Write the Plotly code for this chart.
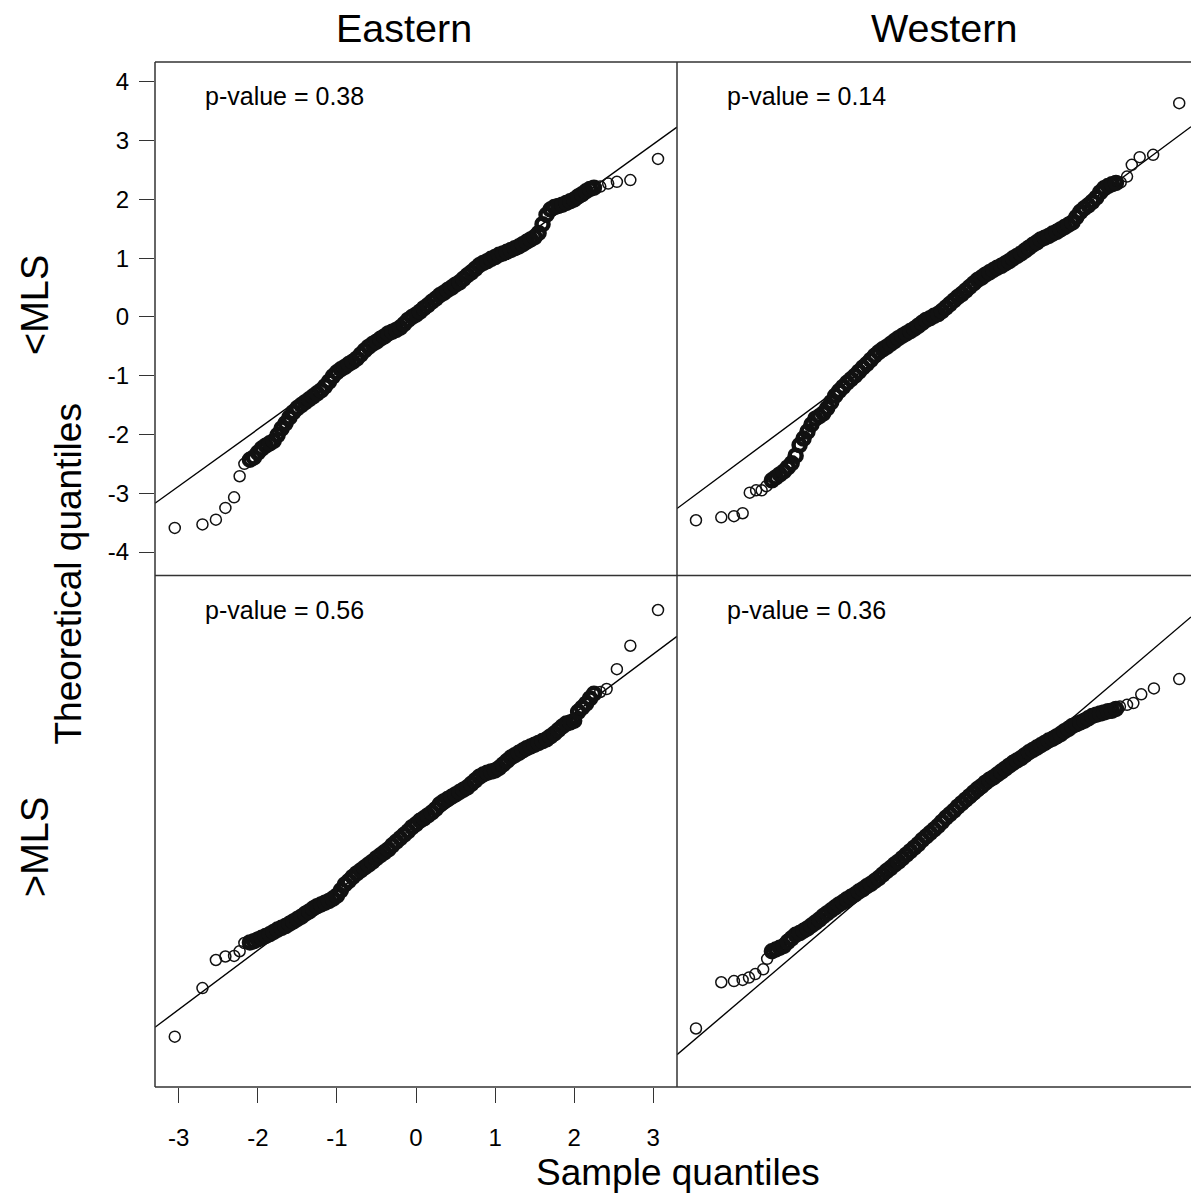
import plotly.graph_objects as go

# ---------------- data ----------------
COLUMNS = ["Eastern", "Western"]
ROWS = ["<MLS", ">MLS"]
P_VALUES = ["p-value = 0.38", "p-value = 0.14", "p-value = 0.56", "p-value = 0.36"]

X_TICKS = [-3, -2, -1, 0, 1, 2, 3]
Y_TICKS = [-4, -3, -2, -1, 0, 1, 2, 3, 4]

# reference lines (intercept, slope) per panel: TL, TR, BL, BR
LINE_INTERCEPT = [0.03, 0.04, -0.04, -0.05]
LINE_SLOPE = [0.97, 1.00, 1.012, 1.151]

# dense central part of each QQ cloud (x positions shared)
CORE_X = [-2.10, -2.05, -2.00, -1.95, -1.90, -1.85, -1.80, -1.75, -1.70, -1.65,
          -1.60, -1.55, -1.50, -1.45, -1.40, -1.35, -1.30, -1.25, -1.20, -1.15,
          -1.10, -1.05, -1.00, -0.95, -0.90, -0.85, -0.80, -0.75, -0.70, -0.65,
          -0.60, -0.55, -0.50, -0.45, -0.40, -0.35, -0.30, -0.25, -0.20, -0.15,
          -0.10, -0.05, 0.00, 0.05, 0.10, 0.15, 0.20, 0.25, 0.30, 0.35,
          0.40, 0.45, 0.50, 0.55, 0.60, 0.65, 0.70, 0.75, 0.80, 0.85,
          0.90, 0.95, 1.00, 1.05, 1.10, 1.15, 1.20, 1.25, 1.30, 1.35,
          1.40, 1.45, 1.50, 1.55, 1.60, 1.65, 1.70, 1.75, 1.80, 1.85,
          1.90, 1.95, 2.00, 2.05, 2.10, 2.15, 2.20, 2.25]

TL_CORE_Y = [-2.43, -2.39, -2.31, -2.24, -2.19, -2.15, -2.11, -2.01, -1.90, -1.81,
             -1.71, -1.62, -1.55, -1.50, -1.45, -1.40, -1.35, -1.30, -1.25, -1.18,
             -1.10, -1.01, -0.94, -0.89, -0.85, -0.80, -0.76, -0.71, -0.64, -0.57,
             -0.51, -0.46, -0.42, -0.37, -0.33, -0.28, -0.25, -0.22, -0.18, -0.12,
             -0.05, 0.00, 0.04, 0.09, 0.15, 0.20, 0.26, 0.31, 0.37, 0.41,
             0.46, 0.50, 0.55, 0.59, 0.65, 0.71, 0.76, 0.82, 0.88, 0.92,
             0.95, 0.99, 1.02, 1.06, 1.08, 1.11, 1.14, 1.17, 1.20, 1.24,
             1.28, 1.32, 1.36, 1.43, 1.58, 1.74, 1.83, 1.87, 1.89, 1.91,
             1.94, 1.97, 2.00, 2.05, 2.09, 2.14, 2.18, 2.20]
TL_TAIL_X = [-3.05, -2.70, -2.53, -2.41, -2.30, -2.23, -2.17, 2.33, 2.43, 2.54, 2.71, 3.06]
TL_TAIL_Y = [-3.59, -3.53, -3.45, -3.25, -3.07, -2.71, -2.50, 2.22, 2.27, 2.30, 2.33, 2.69]

TR_CORE_Y = [-2.78, -2.73, -2.68, -2.63, -2.56, -2.49, -2.36, -2.18, -2.07, -1.95,
             -1.83, -1.73, -1.69, -1.64, -1.55, -1.45, -1.34, -1.26, -1.19, -1.12,
             -1.06, -1.00, -0.93, -0.86, -0.80, -0.73, -0.66, -0.60, -0.55, -0.51,
             -0.46, -0.41, -0.36, -0.32, -0.28, -0.24, -0.20, -0.15, -0.10, -0.05,
             -0.02, 0.02, 0.05, 0.10, 0.16, 0.22, 0.28, 0.34, 0.39, 0.45,
             0.51, 0.57, 0.63, 0.67, 0.72, 0.76, 0.80, 0.84, 0.87, 0.91,
             0.95, 1.00, 1.04, 1.08, 1.13, 1.18, 1.23, 1.27, 1.32, 1.35,
             1.38, 1.42, 1.45, 1.49, 1.53, 1.57, 1.61, 1.70, 1.79, 1.85,
             1.90, 1.96, 2.03, 2.12, 2.19, 2.23, 2.26, 2.28]
TR_TAIL_X = [-3.06, -2.74, -2.58, -2.47, -2.38, -2.30, -2.23, -2.17, 2.31, 2.39, 2.45, 2.55, 2.72, 3.05]
TR_TAIL_Y = [-3.46, -3.41, -3.39, -3.34, -2.99, -2.95, -2.95, -2.88, 2.29, 2.39, 2.59, 2.72, 2.76, 3.64]

BL_CORE_Y = [-1.93, -1.91, -1.88, -1.85, -1.82, -1.79, -1.75, -1.71, -1.68, -1.65,
             -1.61, -1.57, -1.53, -1.49, -1.44, -1.40, -1.35, -1.31, -1.28, -1.25,
             -1.22, -1.18, -1.13, -1.04, -0.94, -0.88, -0.81, -0.75, -0.70, -0.65,
             -0.60, -0.55, -0.49, -0.44, -0.39, -0.34, -0.27, -0.21, -0.15, -0.09,
             -0.03, 0.04, 0.09, 0.15, 0.19, 0.24, 0.29, 0.35, 0.43, 0.48,
             0.52, 0.56, 0.60, 0.64, 0.68, 0.72, 0.78, 0.84, 0.90, 0.94,
             0.97, 0.99, 1.01, 1.05, 1.11, 1.17, 1.23, 1.27, 1.31, 1.35,
             1.39, 1.42, 1.45, 1.48, 1.51, 1.54, 1.59, 1.64, 1.70, 1.76,
             1.81, 1.83, 1.86, 2.01, 2.08, 2.15, 2.24, 2.32]
BL_TAIL_X = [-3.05, -2.70, -2.53, -2.41, -2.30, -2.23, -2.17, 2.33, 2.41, 2.54, 2.71, 3.06]
BL_TAIL_Y = [-3.54, -2.71, -2.23, -2.17, -2.16, -2.08, -1.94, 2.35, 2.40, 2.74, 3.14, 3.75]

BR_CORE_Y = [-2.08, -2.05, -2.02, -1.99, -1.92, -1.86, -1.80, -1.77, -1.73, -1.69,
             -1.64, -1.59, -1.54, -1.48, -1.43, -1.38, -1.33, -1.28, -1.24, -1.19,
             -1.15, -1.11, -1.06, -1.02, -0.97, -0.93, -0.88, -0.83, -0.77, -0.71,
             -0.66, -0.60, -0.55, -0.49, -0.43, -0.37, -0.31, -0.25, -0.18, -0.12,
             -0.06, 0.00, 0.06, 0.13, 0.20, 0.26, 0.32, 0.39, 0.45, 0.51,
             0.57, 0.63, 0.69, 0.74, 0.80, 0.85, 0.89, 0.94, 0.99, 1.04,
             1.09, 1.14, 1.18, 1.22, 1.27, 1.32, 1.36, 1.40, 1.44, 1.48,
             1.52, 1.55, 1.59, 1.63, 1.68, 1.72, 1.77, 1.80, 1.83, 1.86,
             1.90, 1.94, 1.96, 1.98, 2.00, 2.02, 2.03, 2.06]
BR_TAIL_X = [-3.06, -2.74, -2.58, -2.47, -2.39, -2.31, -2.21, -2.16, 2.30, 2.39, 2.47, 2.57, 2.73, 3.05]
BR_TAIL_Y = [-3.40, -2.61, -2.59, -2.57, -2.53, -2.47, -2.39, -2.21, 2.10, 2.13, 2.16, 2.31, 2.41, 2.57]

CORE_Y = [TL_CORE_Y, TR_CORE_Y, BL_CORE_Y, BR_CORE_Y]
TAIL_X = [TL_TAIL_X, TR_TAIL_X, BL_TAIL_X, BR_TAIL_X]
TAIL_Y = [TL_TAIL_Y, TR_TAIL_Y, BL_TAIL_Y, BR_TAIL_Y]

# ---------------- layout geometry ----------------
W, H = 1191, 1201
LEFT, MID, RIGHT = 155, 677, 1191
TOP, HMID, BOTTOM = 62, 575.5, 1087
X_RANGE_FULL = [-3.30, 3.30]
Y_RANGE = [-4.40, 4.34]
x_per_px = (X_RANGE_FULL[1] - X_RANGE_FULL[0]) / (MID - LEFT)
X_RANGE_RIGHT = [X_RANGE_FULL[0], X_RANGE_FULL[0] + x_per_px * (RIGHT - MID)]

FONT = "Liberation Sans, Arial, sans-serif"
INK = "#111111"


def px(x):
    return x / W


def py(y):
    return 1 - y / H


fig = go.Figure()

axis_ids = ["", "2", "3", "4"]
for i in range(4):
    aid = axis_ids[i]
    xr = X_RANGE_FULL if i % 2 == 0 else X_RANGE_RIGHT
    # reference line
    lx = [xr[0], xr[1]]
    ly = [LINE_INTERCEPT[i] + LINE_SLOPE[i] * v for v in lx]
    fig.add_trace(go.Scatter(x=lx, y=ly, mode="lines", xaxis="x" + aid, yaxis="y" + aid,
                             line=dict(color="#000000", width=1.4), hoverinfo="skip",
                             showlegend=False))
    fig.add_trace(go.Scatter(x=CORE_X, y=CORE_Y[i], mode="markers",
                             xaxis="x" + aid, yaxis="y" + aid, showlegend=False,
                             marker=dict(symbol="circle-open", size=12, color=INK,
                                         line=dict(width=4.5, color=INK))))
    fig.add_trace(go.Scatter(x=TAIL_X[i], y=TAIL_Y[i], mode="markers",
                             xaxis="x" + aid, yaxis="y" + aid, showlegend=False,
                             marker=dict(symbol="circle-open", size=11, color=INK,
                                         line=dict(width=1.5, color=INK))))

xdom_l = [px(LEFT), px(MID)]
xdom_r = [px(MID), 1.0]
ydom_t = [py(HMID), py(TOP)]
ydom_b = [py(BOTTOM), py(HMID)]

base_ax = dict(showgrid=False, zeroline=False, showline=False, ticks="",
               showticklabels=False, fixedrange=True)
tick_font = dict(family=FONT, size=24, color="#000000")

fig.update_layout(
    width=W, height=H,
    margin=dict(l=0, r=0, t=0, b=0),
    paper_bgcolor="white", plot_bgcolor="white",
    font=dict(family=FONT, color="#000000"),
    xaxis=dict(base_ax, domain=xdom_l, range=X_RANGE_FULL, anchor="y"),
    yaxis=dict(base_ax, domain=ydom_t, range=Y_RANGE, anchor="x",
               ticks="outside", ticklen=15, tickwidth=1.4, tickcolor="#333333",
               showticklabels=True, tickvals=Y_TICKS, ticktext=[str(v) for v in Y_TICKS],
               tickfont=tick_font, ticklabelstandoff=5),
    xaxis2=dict(base_ax, domain=xdom_r, range=X_RANGE_RIGHT, anchor="y2"),
    yaxis2=dict(base_ax, domain=ydom_t, range=Y_RANGE, anchor="x2"),
    xaxis3=dict(base_ax, domain=xdom_l, range=X_RANGE_FULL, anchor="y3",
                ticks="outside", ticklen=15, tickwidth=1.4, tickcolor="#333333",
                showticklabels=True, tickvals=X_TICKS, ticktext=[str(v) for v in X_TICKS],
                tickfont=tick_font, ticklabelstandoff=14),
    yaxis3=dict(base_ax, domain=ydom_b, range=Y_RANGE, anchor="x3"),
    xaxis4=dict(base_ax, domain=xdom_r, range=X_RANGE_RIGHT, anchor="y4"),
    yaxis4=dict(base_ax, domain=ydom_b, range=Y_RANGE, anchor="x4"),
)

# panel borders
border = dict(color="#333333", width=1.5)
shapes = []
for yy in (TOP, HMID, BOTTOM):
    shapes.append(dict(type="line", xref="paper", yref="paper",
                       x0=px(LEFT), x1=px(RIGHT), y0=py(yy), y1=py(yy), line=border))
for xx in (LEFT, MID):
    shapes.append(dict(type="line", xref="paper", yref="paper",
                       x0=px(xx), x1=px(xx), y0=py(TOP), y1=py(BOTTOM), line=border))
fig.update_layout(shapes=shapes)

ann = []
# column strip titles
STRIP_X = [404, 944]
for j, name in enumerate(COLUMNS):
    ann.append(dict(text=name, x=px(STRIP_X[j]), y=py(28), xref="paper", yref="paper",
                    showarrow=False, xanchor="center", yanchor="middle",
                    font=dict(family=FONT, size=39.5, color="#000000")))
# row labels
for r, name in enumerate(ROWS):
    cy = 305 if r == 0 else 847
    ann.append(dict(text=name, x=px(35), y=py(cy), xref="paper", yref="paper",
                    showarrow=False, textangle=-90, xanchor="center", yanchor="middle",
                    font=dict(family=FONT, size=38, color="#000000")))
# axis titles
ann.append(dict(text="Theoretical quantiles", x=px(68), y=py((TOP + BOTTOM) / 2),
                xref="paper", yref="paper", showarrow=False, textangle=-90,
                xanchor="center", yanchor="middle",
                font=dict(family=FONT, size=37, color="#000000")))
ann.append(dict(text="Sample quantiles", x=px(677.5), y=py(1172),
                xref="paper", yref="paper", showarrow=False,
                xanchor="center", yanchor="middle",
                font=dict(family=FONT, size=37, color="#000000")))
# p-values
for i, t in enumerate(P_VALUES):
    x0 = LEFT if i % 2 == 0 else MID
    y0 = TOP if i < 2 else HMID
    ann.append(dict(text=t, x=px(x0 + 48), y=py(y0 + 34), xref="paper", yref="paper",
                    showarrow=False, xanchor="left", yanchor="middle",
                    font=dict(family=FONT, size=25, color="#000000")))
fig.update_layout(annotations=ann)

fig.write_html("out.html")
